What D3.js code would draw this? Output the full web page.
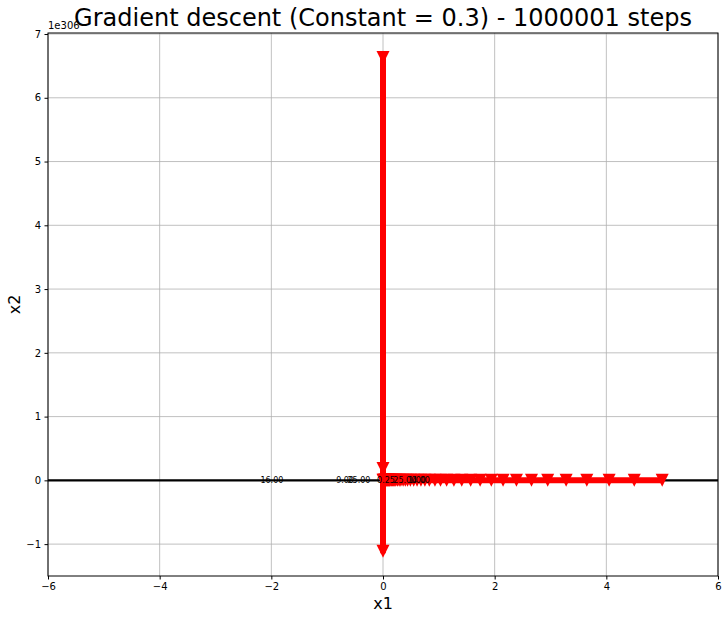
<!DOCTYPE html>
<html><head><meta charset="utf-8">
<script src="https://cdn.jsdelivr.net/npm/d3@7"></script>
<style>body{margin:0;background:#fff}text{font-family:"DejaVu Sans",sans-serif}</style>
</head><body><svg id="c" width="727" height="619"></svg>
<script>
// ---- data ----
const titleText = "Gradient descent (Constant = 0.3) - 1000001 steps";
const xTicks = [-6, -4, -2, 0, 2, 4, 6];
const yTicks = [-1, 0, 1, 2, 3, 4, 5, 6, 7];
const yOffsetLabel = "1e306";
// path of iterates (x2 in units of 1e306)
const pathX1 = [5.0, 4.5, 4.05, 3.65, 3.28, 2.95, 2.66, 2.39, 2.15, 1.94, 1.74, 1.57, 1.41, 1.27, 1.14, 1.03,
  0.93, 0.83, 0.75, 0.68, 0.61, 0.55, 0.49, 0.44, 0.40, 0.36, 0.32, 0.29, 0.26, 0.23, 0.21, 0.19, 0.17,
  0.15, 0.14, 0.12, 0.11, 0.10, 0.09, 0.08, 0.07, 0.06, 0.05, 0.04, 0.03, 0.02, 0.01, 0.0, 0.0, 0.0, 0.0];
const pathX2 = [0, 0, 0, 0, 0, 0, 0, 0, 0, 0, 0, 0, 0, 0, 0, 0,
  0, 0, 0, 0, 0, 0, 0, 0, 0, 0, 0, 0, 0, 0, 0, 0, 0,
  0, 0, 0, 0, 0, 0, 0, 0, 0, 0, 0, 0, 0, 0, 0, 0.187, -1.113, 6.633];
// contour (collapsed onto x2 = 0) and its labels
const contourLevelY = 0;
const contourLabels = ["16.00", "9.00", "25.00", "0.25", "25.00", "1.00", "4.00"];
const contourLabelX = [-1.99, -0.68, -0.43, 0.054, 0.39, 0.61, 0.68];

// ---- layout ----
const svg = d3.select("#c");
const L = 48, R = 718, T = 33, B = 576;
const x = d3.scaleLinear().domain([-6, 6]).range([L, R]);
const y = d3.scaleLinear().domain([-1.5, 7.016]).range([B, T]);

// grid
const g = svg.append("g");
g.selectAll(".gx").data(xTicks).join("line")
  .attr("x1", d => x(d)).attr("x2", d => x(d)).attr("y1", T).attr("y2", B)
  .attr("stroke", "#b0b0b0").attr("stroke-width", 0.8);
g.selectAll(".gy").data(yTicks).join("line")
  .attr("y1", d => y(d)).attr("y2", d => y(d)).attr("x1", L).attr("x2", R)
  .attr("stroke", "#b0b0b0").attr("stroke-width", 0.8);

// contour line
svg.append("line").attr("x1", L).attr("x2", R)
  .attr("y1", y(contourLevelY)).attr("y2", y(contourLevelY))
  .attr("stroke", "#000").attr("stroke-width", 2.2);

// path
const pts = pathX1.map((v, i) => [v, pathX2[i]]);
svg.append("path").datum(pts)
  .attr("d", d3.line().x(d => x(d[0])).y(d => y(d[1])))
  .attr("fill", "none").attr("stroke", "#ff0000").attr("stroke-width", 6)
  .attr("stroke-linejoin", "round");
svg.selectAll(".mk").data(pts).join("path")
  .attr("transform", d => `translate(${x(d[0])},${y(d[1])})`)
  .attr("d", "M-6.5,-6.5L6.5,-6.5L0,6.5Z")
  .attr("fill", "#ff0000");

// contour labels
svg.selectAll(".cl").data(contourLabels).join("text")
  .attr("x", (d, i) => x(contourLabelX[i])).attr("y", y(contourLevelY) + 3)
  .attr("text-anchor", "middle").attr("font-size", 8).attr("fill", "#000")
  .text(d => d);

// frame
svg.append("rect").attr("x", L).attr("y", T).attr("width", R - L).attr("height", B - T)
  .attr("fill", "none").attr("stroke", "#000").attr("stroke-width", 1);

// axes
const xa = svg.append("g").attr("transform", `translate(0,${B})`)
  .call(d3.axisBottom(x).tickValues(xTicks).tickSize(3.5).tickPadding(3.5).tickFormat(d3.format("d")));
const ya = svg.append("g").attr("transform", `translate(${L},0)`)
  .call(d3.axisLeft(y).tickValues(yTicks).tickSize(3.5).tickPadding(3.5).tickFormat(d3.format("d")));
[xa, ya].forEach(a => {
  a.select(".domain").remove();
  a.selectAll("text").attr("font-size", 10).attr("fill", "#000").style("font-family", "DejaVu Sans");
  a.selectAll("line").attr("stroke", "#000");
});

// offset text
svg.append("text").attr("x", L).attr("y", 29).attr("font-size", 10).text(yOffsetLabel);

// title & labels
svg.append("text").attr("x", (L + R) / 2).attr("y", 26).attr("text-anchor", "middle")
  .attr("font-size", 24).text(titleText);
svg.append("text").attr("x", (L + R) / 2).attr("y", 609).attr("text-anchor", "middle")
  .attr("font-size", 16).text("x1");
svg.append("text").attr("transform", `translate(20,${(T + B) / 2}) rotate(-90)`)
  .attr("text-anchor", "middle").attr("font-size", 16).text("x2");
</script></body></html>
